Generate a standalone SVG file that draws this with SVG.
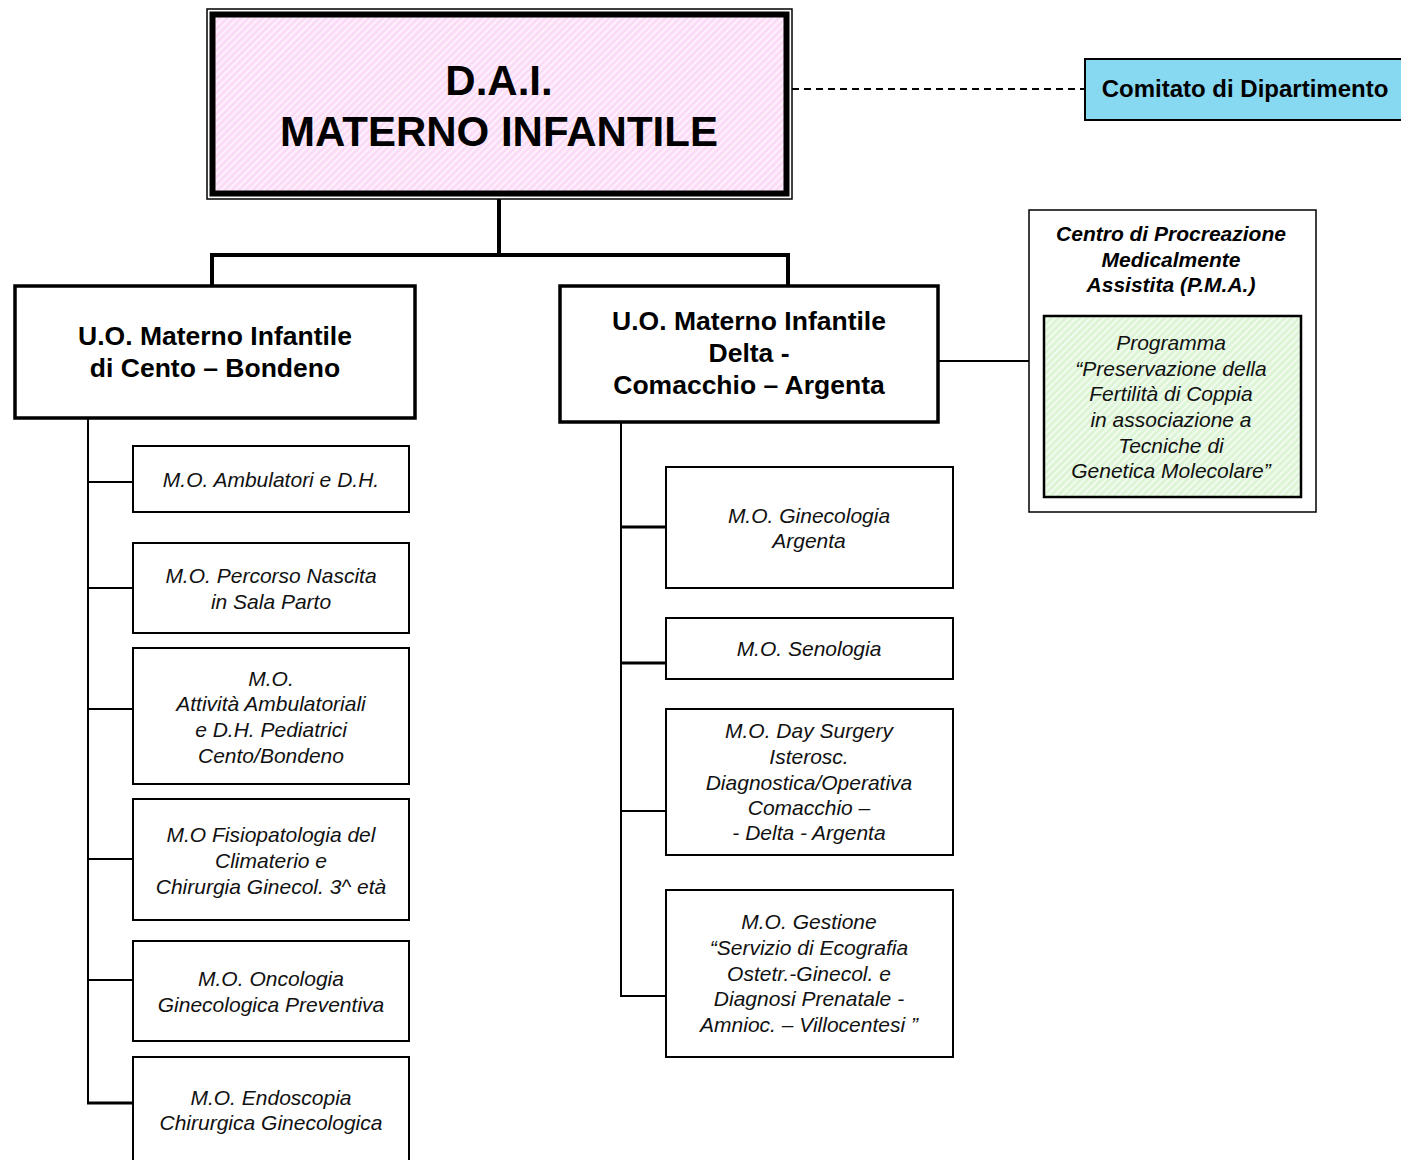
<svg xmlns="http://www.w3.org/2000/svg" width="1401" height="1160" viewBox="0 0 1401 1160">
<defs>
<pattern id="pink" patternUnits="userSpaceOnUse" width="5" height="5" patternTransform="rotate(45)">
<rect width="5" height="5" fill="#fbdcf7"/>
<rect x="0" y="0" width="1.8" height="5" fill="#fff2fd"/>
</pattern>
<pattern id="green" patternUnits="userSpaceOnUse" width="5" height="5" patternTransform="rotate(45)">
<rect width="5" height="5" fill="#ddf5d6"/>
<rect x="0" y="0" width="1.8" height="5" fill="#f4fcf1"/>
</pattern>
<style>
.t{font-family:"Liberation Sans",Arial,sans-serif;text-anchor:middle;fill:#000}
.b{font-weight:bold}
.i{font-style:italic}
.mo{font-family:"Liberation Sans",Arial,sans-serif;font-style:italic;font-size:21px;text-anchor:middle;fill:#111}
.box{fill:#fff;stroke:#000;stroke-width:2}
.uo{fill:#fff;stroke:#000;stroke-width:3.5}
.ln{stroke:#000;stroke-width:2;fill:none}
.lnb{stroke:#000;stroke-width:3;fill:none}
.lnt{stroke:#000;stroke-width:4;fill:none}
</style>
</defs>
<rect width="1401" height="1160" fill="#fff"/>

<g id="connectors">
<line class="ln" x1="792" y1="89" x2="1085" y2="89" stroke-dasharray="7,5"/>
<polyline class="lnt" points="499,197 499,255"/>
<polyline class="lnt" points="212,286 212,255 788,255 788,286"/>
<line class="ln" x1="88" y1="412" x2="88" y2="1104"/>
<line class="ln" x1="88" y1="482" x2="133" y2="482"/>
<line class="ln" x1="88" y1="588" x2="133" y2="588"/>
<line class="ln" x1="88" y1="709" x2="133" y2="709"/>
<line class="ln" x1="88" y1="859" x2="133" y2="859"/>
<line class="ln" x1="88" y1="980" x2="133" y2="980"/>
<line class="lnb" x1="87" y1="1103" x2="133" y2="1103"/>
<line class="ln" x1="621" y1="422" x2="621" y2="997"/>
<line class="lnb" x1="621" y1="527" x2="666" y2="527"/>
<line class="lnb" x1="621" y1="663" x2="666" y2="663"/>
<line class="ln" x1="621" y1="811" x2="666" y2="811"/>
<line class="ln" x1="620" y1="996" x2="666" y2="996"/>
<line class="ln" x1="938" y1="361" x2="1044" y2="361"/>
</g>

<g id="dai">
<rect x="207" y="9" width="585" height="190" fill="#fff" stroke="#000" stroke-width="1.5"/>
<rect x="212.5" y="14.5" width="574" height="179" fill="url(#pink)" stroke="#000" stroke-width="6"/>
<text class="t b" x="499" y="95" font-size="42">D.A.I.</text>
<text class="t b" x="499" y="146" font-size="42">MATERNO INFANTILE</text>
</g>

<g id="comitato">
<rect x="1085" y="59" width="320" height="61" fill="#87d8f1" stroke="#000" stroke-width="2"/>
<text class="t b" x="1245" y="97" font-size="24">Comitato di Dipartimento</text>
</g>

<g id="uo-cento">
<rect class="uo" x="15" y="286" width="400" height="132"/>
<text class="t b" x="215" y="345" font-size="26.5">U.O. Materno Infantile</text>
<text class="t b" x="215" y="377" font-size="26.5">di Cento – Bondeno</text>
</g>

<g id="uo-delta">
<rect class="uo" x="560" y="286" width="378" height="136"/>
<text class="t b" x="749" y="330" font-size="26.5">U.O. Materno Infantile</text>
<text class="t b" x="749" y="362" font-size="26.5">Delta -</text>
<text class="t b" x="749" y="394" font-size="26.5">Comacchio – Argenta</text>
</g>

<g id="pma">
<rect x="1029" y="210" width="287" height="302" fill="#fff" stroke="#000" stroke-width="1.5"/>
<text class="t b i" x="1171" y="241" font-size="21">Centro di Procreazione</text>
<text class="t b i" x="1171" y="267" font-size="21">Medicalmente</text>
<text class="t b i" x="1171" y="292" font-size="21">Assistita (P.M.A.)</text>
</g>

<g id="pma-programma">
<rect x="1044" y="316" width="257" height="181" fill="url(#green)" stroke="#000" stroke-width="2.5"/>
<text class="mo" x="1171" y="350">Programma</text>
<text class="mo" x="1171" y="376">“Preservazione della</text>
<text class="mo" x="1171" y="401">Fertilità di Coppia</text>
<text class="mo" x="1171" y="427">in associazione a</text>
<text class="mo" x="1171" y="453">Tecniche di</text>
<text class="mo" x="1171" y="478">Genetica Molecolare”</text>
</g>

<g id="mo-ambulatori">
<rect class="box" x="133" y="446" width="276" height="66"/>
<text class="mo" x="271" y="487">M.O. Ambulatori e D.H.</text>
</g>

<g id="mo-nascita">
<rect class="box" x="133" y="543" width="276" height="90"/>
<text class="mo" x="271" y="583">M.O. Percorso Nascita</text>
<text class="mo" x="271" y="609">in Sala Parto</text>
</g>

<g id="mo-pediatriche">
<rect class="box" x="133" y="648" width="276" height="136"/>
<text class="mo" x="271" y="686">M.O.</text>
<text class="mo" x="271" y="711">Attività Ambulatoriali</text>
<text class="mo" x="271" y="737">e D.H. Pediatrici</text>
<text class="mo" x="271" y="763">Cento/Bondeno</text>
</g>

<g id="mo-climaterio">
<rect class="box" x="133" y="799" width="276" height="121"/>
<text class="mo" x="271" y="842">M.O Fisiopatologia del</text>
<text class="mo" x="271" y="868">Climaterio e</text>
<text class="mo" x="271" y="894">Chirurgia Ginecol. 3^ età</text>
</g>

<g id="mo-oncologia">
<rect class="box" x="133" y="941" width="276" height="100"/>
<text class="mo" x="271" y="986">M.O. Oncologia</text>
<text class="mo" x="271" y="1012">Ginecologica Preventiva</text>
</g>

<g id="mo-endoscopia">
<rect class="box" x="133" y="1057" width="276" height="110"/>
<text class="mo" x="271" y="1105">M.O. Endoscopia</text>
<text class="mo" x="271" y="1130">Chirurgica Ginecologica</text>
</g>

<g id="mo-ginecologia">
<rect class="box" x="666" y="467" width="287" height="121"/>
<text class="mo" x="809" y="523">M.O. Ginecologia</text>
<text class="mo" x="809" y="548">Argenta</text>
</g>

<g id="mo-senologia">
<rect class="box" x="666" y="618" width="287" height="61"/>
<text class="mo" x="809" y="656">M.O. Senologia</text>
</g>

<g id="mo-daysurgery">
<rect class="box" x="666" y="709" width="287" height="146"/>
<text class="mo" x="809" y="738">M.O. Day Surgery</text>
<text class="mo" x="809" y="764">Isterosc.</text>
<text class="mo" x="809" y="790">Diagnostica/Operativa</text>
<text class="mo" x="809" y="815">Comacchio –</text>
<text class="mo" x="809" y="840">- Delta - Argenta</text>
</g>

<g id="mo-ecografia">
<rect class="box" x="666" y="890" width="287" height="167"/>
<text class="mo" x="809" y="929">M.O. Gestione</text>
<text class="mo" x="809" y="955">“Servizio di Ecografia</text>
<text class="mo" x="809" y="981">Ostetr.-Ginecol. e</text>
<text class="mo" x="809" y="1006">Diagnosi Prenatale -</text>
<text class="mo" x="809" y="1032">Amnioc. – Villocentesi ”</text>
</g>
</svg>
